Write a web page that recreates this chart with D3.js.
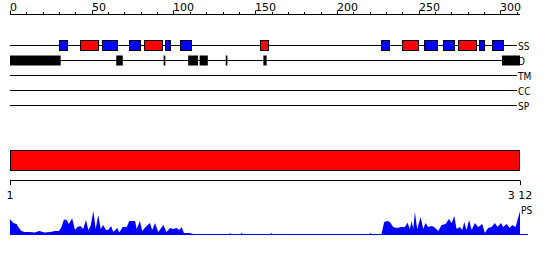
<!DOCTYPE html>
<html>
<head>
<meta charset="utf-8">
<script src="https://cdn.jsdelivr.net/npm/d3@7"></script>
<style>
	html, body { margin: 0; padding: 0; background: #fff; }
	#app { width: 550px; height: 260px; }
	text { font-family: 'DejaVu Sans Condensed', 'DejaVu Sans', sans-serif; font-size: 10px; fill: #000; }
	text.num { font-family: 'DejaVu Sans', sans-serif; font-size: 11px; }
</style>
</head>
<body>
<div id="app"></div>
<script>

// sequence length and track names
const SEQ_LENGTH = 312;
const trackNames = ['SS', 'D', 'TM', 'CC', 'SP'];

// secondary structure: [start, end, type] (E = strand/blue, H = helix/red)
const ssStart = [30, 43, 56, 73, 82, 95, 104, 153, 227, 240, 253, 265, 274, 287, 295];
const ssEnd = [35, 54, 65, 80, 93, 98, 111, 158, 232, 250, 261, 272, 285, 290, 302];
const ssType = ['E', 'H', 'E', 'E', 'H', 'E', 'E', 'H', 'E', 'H', 'E', 'E', 'H', 'E', 'E'];

// disorder segments
const disStart = [0, 65, 94, 109, 116, 132, 155, 301];
const disEnd = [31, 69, 95, 115, 121, 133, 157, 312];

// domain bar
const domainStart = [1];
const domainEnd = [312];

// PS profile, residue positions and scores
const psPos = [0, 1, 2, 4, 5.5, 7, 9, 12, 15, 18, 21, 24.5, 27.5, 30, 31.5, 33, 34.7, 36, 38, 39.8, 41.2, 43.2, 44.8,
	46.5, 47.9, 49.3, 51, 52.4, 54, 55.5, 57, 58.7, 60, 61.8, 63.2, 65.6, 66.9, 68.9, 71.4, 73, 75, 76.5, 77.5,
	79.5, 80.9, 83, 85.6, 87, 88.7, 90.7, 93.8, 95.8, 97.9, 99.9, 101.9, 103.6, 105, 106.4, 110, 112, 134, 134.6,
	135.2, 141, 141.7, 142.4, 159.4, 160, 160.6, 220, 220.6, 221.2, 227.3, 228.9, 231, 232.4, 234.4, 236.5, 239.6,
	241.6, 243.2, 244.6, 245.7, 246.7, 247.7, 249.1, 251.2, 252.8, 254.2, 255.8, 257.9, 259.5, 262, 264, 266.5,
	268.5, 270.2, 271.8, 273.2, 275.2, 276.7, 277.9, 279.3, 280.9, 282.4, 284.4, 286.4, 288.9, 290.5, 292.5,
	294.6, 296.6, 298.3, 300.3, 301.7, 303.8, 305.8, 307.2, 309.3, 312];
const psScore = [0.63, 0.56, 0.48, 0.44, 0.28, 0.16, 0.12, 0.12, 0.1, 0.16, 0.1, 0.12, 0.16, 0.16, 0.32, 0.62, 0.6,
	0.44, 0.67, 0.2, 0.32, 0.36, 0.24, 0.6, 0.2, 0.36, 0.96, 0.24, 0.8, 0.24, 0.4, 0.2, 0.2, 0.36, 0.12, 0.28, 0.1,
	0.32, 0.32, 0.56, 0.56, 0.56, 0.24, 0.56, 0.16, 0.32, 0.48, 0.2, 0.48, 0.12, 0.4, 0.12, 0.28, 0.24, 0.28, 0.2,
	0.32, 0.08, 0.08, 0.04, 0.04, 0.08, 0.04, 0.04, 0.08, 0.04, 0.04, 0.08, 0.04, 0.04, 0.08, 0.04, 0.04, 0.52,
	0.56, 0.52, 0.32, 0.28, 0.32, 0.32, 0.5, 0.24, 0.56, 0.24, 0.92, 0.24, 0.72, 0.24, 0.48, 0.32, 0.36, 0.32,
	0.16, 0.4, 0.44, 0.64, 0.48, 0.76, 0.24, 0.32, 0.2, 0.52, 0.2, 0.6, 0.2, 0.48, 0.32, 0.44, 0.08, 0.28, 0.32,
	0.48, 0.32, 0.48, 0.32, 0.44, 0.28, 0.4, 0.32, 0.96];

const axisTicks = d3.range(0, 301, 50);
const minorTicks = d3.range(0, 311, 10);
const bottomLabels = ['1', '3 12'];

const COLOR_E = '#0000ff',
	COLOR_H = '#ff0000';

function init () {
	let svg = d3.select('#app').append('svg')
		.attr('width', 550)
		.attr('height', 260);

	let x = d3.scaleLinear()
		.domain([0, SEQ_LENGTH])
		.range([10, 520]);

	let trackY = d3.scalePoint()
		.domain(trackNames)
		.range([45.5, 105.5]);

	// top ruler
	let ruler = svg.append('g');
	ruler.append('line')
		.attr('x1', x(0)).attr('x2', x(SEQ_LENGTH))
		.attr('y1', 14.5).attr('y2', 14.5)
		.attr('stroke', '#000');
	ruler.selectAll('.minor')
		.data(minorTicks)
		.enter().append('line')
			.attr('x1', d => Math.round(x(d)) + 0.5)
			.attr('x2', d => Math.round(x(d)) + 0.5)
			.attr('y1', d => d % 50 === 0 ? 10.5 : 12)
			.attr('y2', 14.5)
			.attr('stroke', '#000');
	ruler.selectAll('text')
		.data(axisTicks)
		.enter().append('text')
			.attr('class', 'num')
			.attr('x', d => Math.round(x(d)))
			.attr('y', 11)
			.text(d => d);

	// track lines + labels
	let tracks = svg.selectAll('.track')
		.data(trackNames)
		.enter().append('g')
			.attr('class', 'track');
	tracks.append('line')
		.attr('x1', x(0)).attr('x2', 517)
		.attr('y1', d => trackY(d)).attr('y2', d => trackY(d))
		.attr('stroke', '#000');
	tracks.append('text')
		.attr('x', 518)
		.attr('y', d => trackY(d) + 4)
		.text(d => d);

	// disorder blocks
	svg.selectAll('.dis')
		.data(disStart.map((s, i) => ({ s, e: disEnd[i] })))
		.enter().append('rect')
			.attr('x', d => x(d.s))
			.attr('width', d => x(d.e) - x(d.s))
			.attr('y', trackY('D') - 5)
			.attr('height', 10)
			.attr('fill', '#000');

	// secondary structure boxes
	svg.selectAll('.ss')
		.data(ssStart.map((s, i) => ({ s, e: ssEnd[i], t: ssType[i] })))
		.enter().append('rect')
			.attr('x', d => Math.round(x(d.s)) + 0.5)
			.attr('width', d => Math.round(x(d.e) - x(d.s)))
			.attr('y', trackY('SS') - 5)
			.attr('height', 10)
			.attr('fill', d => d.t === 'H' ? COLOR_H : COLOR_E)
			.attr('stroke', '#000');

	// domain bar
	svg.selectAll('.dom')
		.data(domainStart.map((s, i) => ({ s, e: domainEnd[i] })))
		.enter().append('rect')
			.attr('x', d => x(d.s - 1) + 0.5)
			.attr('width', d => x(d.e) - x(d.s - 1) - 1)
			.attr('y', 150.5)
			.attr('height', 20)
			.attr('fill', COLOR_H)
			.attr('stroke', '#000');

	// bottom scale 1..312
	let bottom = svg.append('g');
	bottom.append('line')
		.attr('x1', x(0)).attr('x2', x(SEQ_LENGTH))
		.attr('y1', 180.5).attr('y2', 180.5)
		.attr('stroke', '#000');
	bottom.selectAll('.tick')
		.data([0, SEQ_LENGTH])
		.enter().append('line')
			.attr('x1', d => x(d) + 0.5).attr('x2', d => x(d) + 0.5)
			.attr('y1', 180.5).attr('y2', 185)
			.attr('stroke', '#000');
	bottom.selectAll('text')
		.data(bottomLabels)
		.enter().append('text')
			.attr('class', 'num')
			.attr('x', (d, i) => i === 0 ? x(0) : x(SEQ_LENGTH))
			.attr('y', 199)
			.attr('text-anchor', 'middle')
			.style('white-space', 'pre')
			.text(d => d);

	// PS profile
	let y = d3.scaleLinear()
		.domain([0, 1])
		.range([235, 210]);
	let area = d3.area()
		.x(d => x(d[0]))
		.y0(y(0))
		.y1(d => Math.min(y(0) - 1, y(d[1])));
	svg.append('path')
		.datum(psPos.map((p, i) => [p, psScore[i]]))
		.attr('d', area)
		.attr('fill', COLOR_E);
	svg.append('line')
		.attr('x1', x(0)).attr('x2', 528)
		.attr('y1', 234.5).attr('y2', 234.5)
		.attr('stroke', COLOR_E);
	svg.append('text')
		.attr('x', 521)
		.attr('y', 214)
		.text('PS');
}

init();
</script>
</body>
</html>
